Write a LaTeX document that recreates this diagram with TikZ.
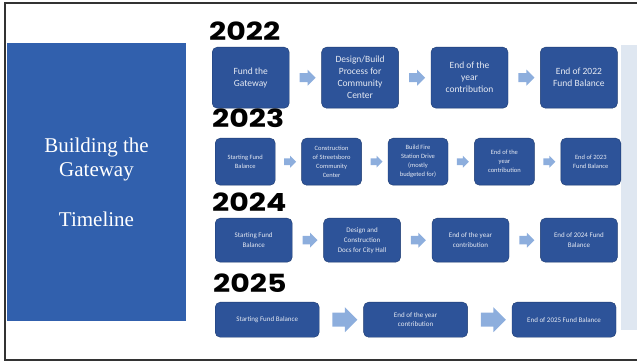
\documentclass[tikz,border=0pt]{standalone}
\usepackage{fontspec}
\setmainfont{Liberation Serif}
\newfontfamily\yearfont{Poppins}
\newfontfamily\boxfont{Carlito}
\usetikzlibrary{positioning,shapes.arrows,calc}

\definecolor{boxblue}{HTML}{2D5399}
\definecolor{boxedge}{HTML}{1C3A70}
\definecolor{panelblue}{HTML}{3160AD}
\definecolor{arrowblue}{HTML}{8DAEDD}
\definecolor{stripblue}{HTML}{DFE7F1}

\newcommand{\yr}[1]{\scalebox{1.2}[1]{#1}}

\begin{document}
\begin{tikzpicture}[x=1pt,y=-1pt,
    main node/.style={rectangle,rounded corners=5pt,draw=boxedge,fill=boxblue,
      text=white!88!boxblue,align=center,inner sep=1pt,font=\boxfont},
    flow arrow/.style={single arrow,draw=none,fill=arrowblue,
      minimum height=#1pt,minimum width=#1pt,inner sep=0.25*#1pt,
      single arrow head extend=0.2*#1pt},
    year/.style={anchor=base west,inner sep=0pt,font=\yearfont\bfseries\fontsize{25}{25}\selectfont}]
  \useasboundingbox (0,0) rectangle (637,363);

  % frame and side strip
  \draw[line width=1.4pt,black!80] (637,3) -- (5,3) -- (5,360) -- (637,360);
  \fill[stripblue] (621,45) rectangle (637,330);

  % title panel
  \node[rectangle,fill=panelblue,minimum width=179pt,minimum height=278pt,
        text=white,align=center,font=\fontsize{21}{24}\selectfont] (title) at (96.5,182)
        {Building the\\Gateway\\[26pt]Timeline};

  % 2022
  \node[year] (y22) at (209,41) {\yr{2022}};
  \begin{scope}[node distance=32pt,every node/.append style={minimum width=77pt,minimum height=61pt}]
  \node[main node,anchor=north west,font=\boxfont\fontsize{9.5}{12}\selectfont] (1) at (212,47) {Fund the\\Gateway};
  \node[main node,font=\boxfont\fontsize{9.5}{12}\selectfont] (2) [right=of 1] {Design/Build\\Process for\\Community\\Center};
  \node[main node,font=\boxfont\fontsize{9.5}{12}\selectfont] (3) [right=of 2] {End of the\\year\\contribution};
  \node[main node,font=\boxfont\fontsize{9.5}{12}\selectfont] (4) [right=of 3] {End of 2022\\Fund Balance};
  \end{scope}
  \node[flow arrow=16] (a12) at ($(1.east)!.5!(2.west)$) {};
  \node[flow arrow=16] (a23) at ($(2.east)!.5!(3.west)$) {};
  \node[flow arrow=16] (a34) at ($(3.east)!.5!(4.west)$) {};

  % 2023
  \node[year] (y23) at (212,128) {\yr{2023}};
  \begin{scope}[node distance=26pt,every node/.append style={minimum width=60pt,minimum height=47pt}]
  \node[main node,anchor=north west,font=\boxfont\fontsize{6.5}{9}\selectfont] (5) at (215,138) {Starting Fund\\Balance};
  \node[main node,font=\boxfont\fontsize{6.5}{9}\selectfont] (6) [right=of 5] {Construction\\of Streetsboro\\Community\\Center};
  \node[main node,font=\boxfont\fontsize{6.5}{9}\selectfont] (7) [right=of 6] {Build Fire\\Station Drive\\(mostly\\budgeted for)};
  \node[main node,font=\boxfont\fontsize{6.5}{9}\selectfont] (8) [right=of 7] {End of the\\year\\contribution};
  \node[main node,font=\boxfont\fontsize{6.5}{9}\selectfont] (9) [right=of 8] {End of 2023\\Fund Balance};
  \end{scope}
  \node[flow arrow=12] (a56) at ($(5.east)!.5!(6.west)$) {};
  \node[flow arrow=12] (a67) at ($(6.east)!.5!(7.west)$) {};
  \node[flow arrow=12] (a78) at ($(7.east)!.5!(8.west)$) {};
  \node[flow arrow=12] (a89) at ($(8.east)!.5!(9.west)$) {};

  % 2024
  \node[year] (y24) at (212,212) {\yr{2024}};
  \begin{scope}[node distance=31pt,every node/.append style={minimum width=77pt,minimum height=44pt}]
  \node[main node,anchor=north west,font=\boxfont\fontsize{7}{10}\selectfont] (10) at (215,218) {Starting Fund\\Balance};
  \node[main node,font=\boxfont\fontsize{7}{10}\selectfont] (11) [right=of 10] {Design and\\Construction\\Docs for City Hall};
  \node[main node,font=\boxfont\fontsize{7}{10}\selectfont] (12) [right=of 11] {End of the year\\contribution};
  \node[main node,font=\boxfont\fontsize{7}{10}\selectfont] (13) [right=of 12] {End of 2024 Fund\\Balance};
  \end{scope}
  \node[flow arrow=15] (a1011) at ($(10.east)!.5!(11.west)$) {};
  \node[flow arrow=15] (a1112) at ($(11.east)!.5!(12.west)$) {};
  \node[flow arrow=15] (a1213) at ($(12.east)!.5!(13.west)$) {};

  % 2025
  \node[year] (y25) at (213,293) {\yr{2025}};
  \begin{scope}[node distance=44pt,every node/.append style={minimum width=104pt,minimum height=35pt}]
  \node[main node,anchor=north west,font=\boxfont\fontsize{7}{9}\selectfont] (14) at (215,302) {Starting Fund Balance};
  \node[main node,font=\boxfont\fontsize{7}{9}\selectfont] (15) [right=of 14] {End of the year\\contribution};
  \node[main node,font=\boxfont\fontsize{7}{9}\selectfont] (16) [right=of 15] {End of 2025 Fund Balance};
  \end{scope}
  \node[flow arrow=25] (a1415) at ($(14.east)!.5!(15.west)$) {};
  \node[flow arrow=25] (a1516) at ($(15.east)!.5!(16.west)$) {};
\end{tikzpicture}
\end{document}
